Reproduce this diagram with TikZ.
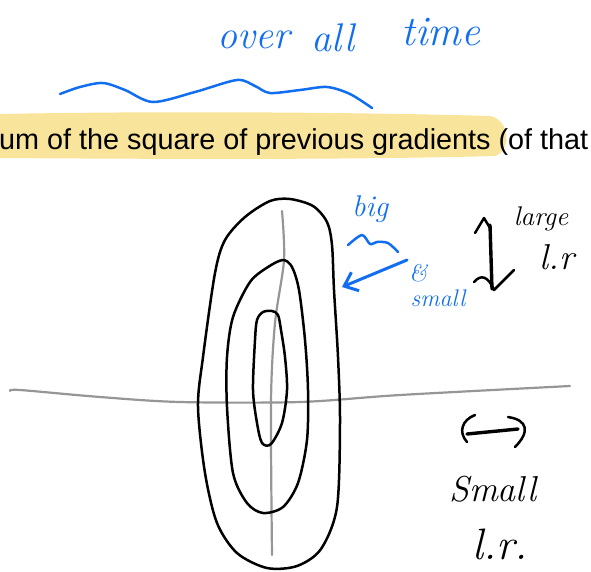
\documentclass[tikz,border=0pt]{standalone}
\usepackage{fontspec}
\newfontfamily\printfont{Liberation Sans}
\usetikzlibrary{arrows.meta,positioning}
\definecolor{penblue}{RGB}{18,110,240}
\definecolor{marker}{RGB}{249,228,155}
\definecolor{axisgrey}{RGB}{150,150,150}

\begin{document}
\begin{tikzpicture}[x=1pt,y=-1pt,
			pen/.style={line width=2.5pt, line cap=round, line join=round},
			contour/.style={pen, black},
			axis/.style={line width=2.2pt, axisgrey, line cap=round},
			note/.style={font=\fontsize{34}{36}\selectfont\itshape, inner sep=0pt},
			bluenote/.style={note, text=penblue}
			]
			\useasboundingbox (0,0) rectangle (591,571);
			\clip (0,0) rectangle (591,571);
			
			% Highlighted line
			\fill[marker] (0,114) .. controls (150,111) and (350,112) .. (490,116)
				.. controls (510,120) and (512,150) .. (495,156)
				.. controls (350,160) and (150,159) .. (0,158) -- cycle;
			\node[anchor=base west, inner sep=0pt, font=\printfont\fontsize{28.8}{30}\selectfont] (printline) at (-1,149) {um of the square of previous gradients (of that};
			
			% Blue notes
			\node[bluenote, font=\fontsize{40}{42}\selectfont\itshape] (over) at (254,40) {over};
			\node[bluenote, font=\fontsize{40}{42}\selectfont\itshape] (all) at (333,38) {all};
			\node[bluenote, font=\fontsize{42}{44}\selectfont\itshape] (time) at (441,32) {time};
			\draw[pen, penblue] plot[smooth] coordinates {(60,94) (80,87) (103,83) (125,90) (153,102) (195,92) (237,80) (255,86) (270,93) (300,90) (327,87) (350,94) (372,108)};
			
			\node[bluenote, font=\fontsize{30}{32}\selectfont\itshape] (big) at (370,209) {big};
			\draw[pen, penblue] plot[smooth] coordinates {(348,245) (362,235) (370,244) (377,242) (388,243) (398,252)};
			\node[bluenote, font=\fontsize{24}{26}\selectfont\itshape] (amp) at (418,273) {\&};
			\node[bluenote, font=\fontsize{24}{26}\selectfont\itshape] (smallb) at (438,298) {small};
			
			% Axes
			\draw[axis] plot[smooth] coordinates {(10,391) (20,390) (100,397) (180,402) (300,402) (400,395) (570,386)};
			\draw[axis] plot[smooth] coordinates {(282,211) (284,260) (275,323) (271,401) (272,555)};
			
			% Contours
			\draw[contour] plot[smooth cycle] coordinates {(290,199) (313,206) (327,222) (332,245) (334,290) (338,357) (340,423) (337,507) (321,549) (297,566) (267,568) (237,553) (217,523) (205,473) (198,407) (203,357) (215,273) (225,240) (245,217) (270,201)};
			\draw[contour] plot[smooth cycle] coordinates {(283,260) (292,267) (299,290) (305,340) (308,390) (307,440) (298,483) (283,507) (263,513) (247,503) (233,473) (227,407) (227,357) (233,317) (250,282) (268,267)};
			\draw[contour] plot[smooth cycle] coordinates {(272,311) (278,315) (281,330) (285,357) (287,390) (282,423) (271,444) (262,443) (257,423) (253,390) (255,340) (257,320) (263,312)};
			
			% Blue arrow
			\coordinate (tail) at (407,260);
			\coordinate (tip) at (342,287);
			\draw[pen, line width=3pt, penblue, -{Straight Barb[length=12pt,width=20pt]}] (tail) -- (tip);
			
			% Large l.r.
			\draw[pen, line width=3.4pt] (490,225) -- (492,289);
			\draw[pen] (475,233) -- (484,218) -- (490,228);
			\draw[pen] (474,282) .. controls (481,274) and (488,276) .. (494,290) -- (514,270);
			\node[note, font=\fontsize{27}{29}\selectfont\itshape] (large) at (541,219) {large};
			\node[note, font=\fontsize{36}{38}\selectfont\itshape] (lrtop) at (557,257) {l.r};
			
			% Small l.r.
			\draw[pen] (475,415) .. controls (462,420) and (458,432) .. (467,442);
			\draw[pen, line width=3.4pt] (467,434) -- (518,429);
			\draw[pen] (508,417) .. controls (528,420) and (530,432) .. (515,447);
			\node[note, font=\fontsize{36}{38}\selectfont\itshape] (small) at (493,489) {Small};
			\node[note, font=\fontsize{44}{46}\selectfont\itshape] (lrbot) at (500,544) {l.r.};
		\end{tikzpicture}
\end{document}
